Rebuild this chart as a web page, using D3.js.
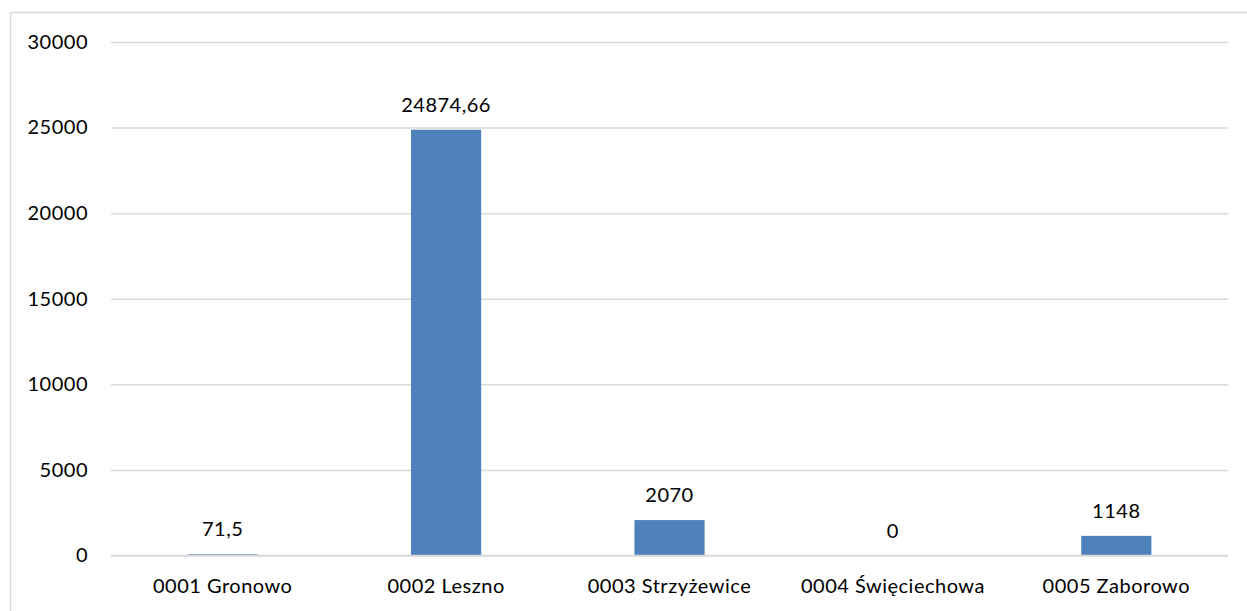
<!DOCTYPE html>
<html><head><meta charset="utf-8">
<script src="https://cdn.jsdelivr.net/npm/d3@7"></script>
<style>html,body{margin:0;padding:0;background:#fff;}svg{display:block;}</style>
</head><body>
<svg id="c" width="1247" height="611"></svg>
<script>
const categories = ["0001 Gronowo", "0002 Leszno", "0003 Strzyżewice", "0004 Święciechowa", "0005 Zaborowo"];
const values = [71.5, 24874.66, 2070, 0, 1148];
const yTicks = [0, 5000, 10000, 15000, 20000, 25000, 30000];
const valueLabels = ["71,5", "24874,66", "2070", "0", "1148"];

const svg = d3.select("#c");
const font = "Lato, Carlito, Calibri, sans-serif";
const fs = 20;
const ls = 0.5;
svg.append("rect").attr("x", 10.5).attr("y", 12.5).attr("width", 1400).attr("height", 800)
  .attr("fill", "#fff").attr("stroke", "#d9d9d9").attr("stroke-width", 1.5);

const x = d3.scaleBand().domain(categories).range([111, 1228]).paddingInner(0.686).paddingOuter(0.343);
const y = d3.scaleLinear().domain([0, 30000]).range([555.5, 42]);

const yAxis = svg.append("g").attr("transform", "translate(111,0)")
  .call(d3.axisLeft(y).tickValues(yTicks).tickSize(-1117).tickFormat(d3.format("d")).tickPadding(23));
yAxis.select(".domain").remove();
yAxis.selectAll("line").attr("stroke", "#d9d9d9").attr("stroke-width", 1.5);
yAxis.selectAll("text").attr("font-family", font).attr("font-size", fs).attr("letter-spacing", ls).attr("fill", "#000");

svg.append("g").selectAll("rect").data(values).join("rect")
  .attr("x", (d, i) => x(categories[i]))
  .attr("width", x.bandwidth())
  .attr("y", d => y(d))
  .attr("height", d => y(0) - y(d))
  .attr("fill", "#4F81BD");

svg.append("line").attr("x1", 111).attr("x2", 1228).attr("y1", y(0)).attr("y2", y(0))
  .attr("stroke", "#d9d9d9").attr("stroke-width", 1.5);

svg.append("g").selectAll("text").data(values).join("text")
  .attr("x", (d, i) => x(categories[i]) + x.bandwidth() / 2)
  .attr("y", d => y(d) - 18)
  .attr("text-anchor", "middle")
  .attr("font-family", font).attr("font-size", fs).attr("letter-spacing", ls).attr("fill", "#000")
  .text((d, i) => valueLabels[i]);

const xAxis = svg.append("g").attr("transform", `translate(0,${y(0)})`)
  .call(d3.axisBottom(x).tickSize(0).tickPadding(23.5));
xAxis.select(".domain").remove();
xAxis.selectAll("text").attr("font-family", font).attr("font-size", fs).attr("letter-spacing", ls).attr("fill", "#000");
</script>
</body></html>
